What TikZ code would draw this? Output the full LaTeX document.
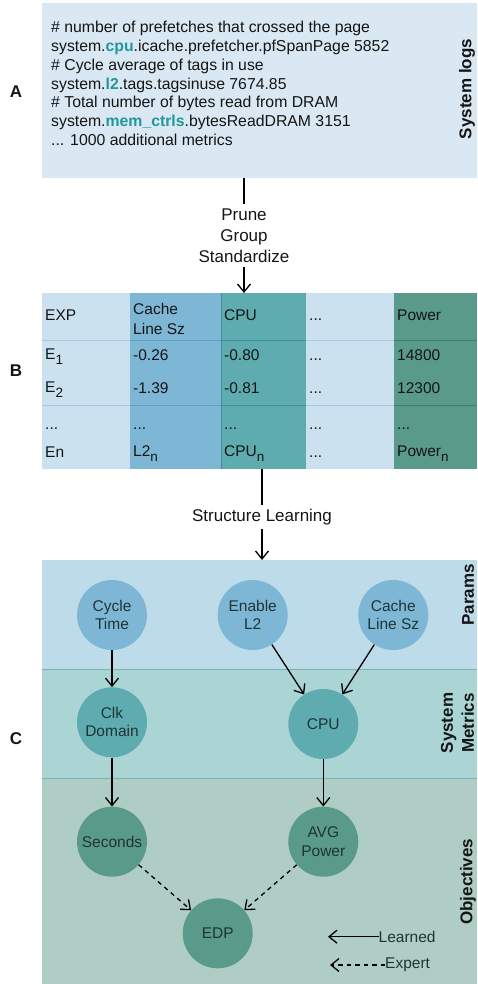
\documentclass[tikz,border=0pt]{standalone}
\usepackage{fontspec}
\setmainfont{Liberation Sans}
\usetikzlibrary{arrows.meta}
\definecolor{panelA}{HTML}{D9E8F2}
\definecolor{colA}{HTML}{CCE1EF}
\definecolor{colAline}{HTML}{A8CADF}
\definecolor{colB}{HTML}{7EB7D6}
\definecolor{colBline}{HTML}{5E9FC3}
\definecolor{colC}{HTML}{5EACB0}
\definecolor{colCline}{HTML}{3F9297}
\definecolor{colE}{HTML}{5A9A8A}
\definecolor{colEline}{HTML}{3E8070}
\definecolor{bandP}{HTML}{BDDBE8}
\definecolor{bandS}{HTML}{ABD5D5}
\definecolor{bandO}{HTML}{AFCDC5}
\definecolor{bandline}{HTML}{74B4B4}
\definecolor{hl}{HTML}{23979B}
\definecolor{nodetxt}{HTML}{1F3434}
\definecolor{txt}{HTML}{151515}
\newcommand\subx[1]{\raisebox{-0.32em}{\fontsize{13.5}{13.5}\selectfont #1}}
\begin{document}
\begin{tikzpicture}[x=1pt,y=-1pt,
  txtfont/.style={font=\fontsize{15.5}{18.7}\selectfont, text=txt},
  logfont/.style={font=\fontsize{15.8}{18.7}\selectfont, text=txt},
  lbl/.style={font=\fontsize{17}{21}\selectfont\bfseries, text=txt},
  steplbl/.style={font=\fontsize{17}{21}\selectfont, text=txt, align=center, inner sep=4pt},
  panel/.style={draw=none, inner sep=0pt, outer sep=0pt},
  logline/.style={logfont, anchor=base west, inner sep=0pt},
  cell/.style={txtfont, anchor=west, inner sep=0pt, text height=11pt, text depth=3pt, align=left},
  mcell/.style={font=\fontsize{15.5}{20}\selectfont, text=txt, anchor=west, inner sep=0pt, align=left},
  bn/.style={circle, minimum size=70pt, inner sep=0pt, align=center,
    font=\fontsize{15.5}{18.3}\selectfont, text=nodetxt},
  arr/.style={-{Straight Barb[length=8pt,width=13pt]}, line width=1.3pt, draw=black},
  darr/.style={arr, dash pattern=on 4.5pt off 4pt},
  bandlbl/.style={lbl, rotate=90, align=center}
]
\useasboundingbox (0,0) rectangle (477,984);

% ---------------- Panel A ----------------
\node[panel, fill=panelA, minimum width=435pt, minimum height=175pt] (A) at (259.5,90.5) {};
\node[logline] (l1) at (51,32.8) {\# number of prefetches that crossed the page};
\node[logline] (l2) at (51,51.6) {system.\textbf{\textcolor{hl}{cpu}}.icache.prefetcher.pfSpanPage 5852};
\node[logline] (l3) at (51,70.4) {\# Cycle average of tags in use};
\node[logline] (l4) at (51,89.2) {system.\textbf{\textcolor{hl}{l2}}.tags.tagsinuse 7674.85};
\node[logline] (l5) at (51,108.0) {\# Total number of bytes read from DRAM};
\node[logline] (l6) at (51,126.8) {system.\textbf{\textcolor{hl}{mem\_ctrls}}.bytesReadDRAM 3151};
\node[logline] (l7) at (51,145.6) {... 1000 additional metrics};
\node[lbl, rotate=90] (syslogs) at (467,89) {System logs};
\node[lbl] (labA) at (16,92) {A};

% ---------------- Step 1 ----------------
\node[steplbl] (prune) at (244,235.5) {Prune\\Group\\Standardize};

% ---------------- Panel B (table) ----------------
\node[panel, minimum width=435pt, minimum height=176pt] (T) at (259.5,381) {};
\fill[colA] (42,293) rectangle (130,469);
\fill[colB] (130,293) rectangle (221,469);
\fill[colC] (221,293) rectangle (306,469);
\fill[colA] (306,293) rectangle (394,469);
\fill[colE] (394,293) rectangle (477,469);
\foreach \yy in {340.7,405.7}{
  \draw[colAline, line width=0.8pt] (42,\yy) -- (130,\yy);
  \draw[colBline, line width=0.8pt] (130,\yy) -- (221,\yy);
  \draw[colCline, line width=0.8pt] (221,\yy) -- (306,\yy);
  \draw[colAline, line width=0.8pt] (306,\yy) -- (394,\yy);
  \draw[colEline, line width=0.8pt] (394,\yy) -- (477,\yy);
}
\draw[colCline, line width=0.8pt] (221,293) -- (221,469);

\node[cell] (h1) at (45,316.7) {EXP};
\node[mcell] (h2) at (133,318.5) {Cache\\Line Sz};
\node[cell] (h3) at (224,316.7) {CPU};
\node[cell] (h4) at (309,316.7) {...};
\node[cell] (h5) at (397,316.7) {Power};

\node[cell] (r11) at (45,355.5) {E\subx{1}};
\node[cell] (r12) at (133,356.7) {-0.26};
\node[cell] (r13) at (224,356.7) {-0.80};
\node[cell] (r14) at (309,356.7) {...};
\node[cell] (r15) at (397,356.7) {14800};

\node[cell] (r21) at (45,388.3) {E\subx{2}};
\node[cell] (r22) at (133,389.3) {-1.39};
\node[cell] (r23) at (224,389.3) {-0.81};
\node[cell] (r24) at (309,389.3) {...};
\node[cell] (r25) at (397,389.3) {12300};

\node[cell] (r31) at (45,425) {...};
\node[cell] (r32) at (133,425) {...};
\node[cell] (r33) at (224,425) {...};
\node[cell] (r34) at (309,425) {...};
\node[cell] (r35) at (397,425) {...};

\node[cell] (r41) at (45,453.3) {En};
\node[cell] (r42) at (133,452.3) {L2\subx{n}};
\node[cell] (r43) at (224,452.3) {CPU\subx{n}};
\node[cell] (r44) at (309,453.3) {...};
\node[cell] (r45) at (397,452.3) {Power\subx{n}};
\node[lbl] (labB) at (16,371) {B};

% ---------------- Step 2 ----------------
\node[steplbl] (sl) at (262,517.3) {Structure Learning};

% ---------------- Panel C ----------------
\node[panel, fill=bandP, minimum width=435pt, minimum height=109.3pt] (P) at (259.5,614.65) {};
\node[panel, fill=bandS, minimum width=435pt, minimum height=109pt] (S) at (259.5,723.8) {};
\node[panel, fill=bandO, minimum width=435pt, minimum height=205.7pt] (O) at (259.5,881.15) {};
\draw[bandline, line width=1pt] (S.north west) -- (S.north east);
\draw[bandline, line width=1pt] (O.north west) -- (O.north east);

\node[bandlbl] (lp) at (468,595) {Params};
\node[bandlbl] (ls) at (457.5,723) {System\\Metrics};
\node[bandlbl] (lo) at (468,881.7) {Objectives};
\node[lbl] (labC) at (16,739) {C};

\node[bn, fill=colB] (ct) at (112,615) {Cycle\\Time};
\node[bn, fill=colB] (el2) at (252.7,615) {Enable\\L2};
\node[bn, fill=colB] (cls) at (393.3,615) {Cache\\Line Sz};
\node[bn, fill=colC] (clk) at (112,722.3) {Clk\\Domain};
\node[bn, fill=colC] (cpu) at (323.3,724) {CPU};
\node[bn, fill=colE] (sec) at (112,841.7) {Seconds};
\node[bn, fill=colE] (avg) at (323.3,841.7) {AVG\\Power};
\node[bn, fill=colE] (edp) at (217.7,933.3) {EDP};

% legend
\node[txtfont, anchor=west, inner sep=0pt, text=nodetxt] (learned) at (378.5,936.7) {Learned};
\node[txtfont, anchor=west, inner sep=0pt, text=nodetxt] (expert) at (385,965) {Expert};
\coordinate (lrnEnd) at (328,936.7);
\coordinate (expEnd) at (330,965);

% ---------------- connectors ----------------
\draw[line width=1.3pt] (A.south -| prune.north) -- (prune.north);
\draw[arr] (prune.south) -- (T.north -| prune.south);
\draw[line width=1.3pt] (T.south -| sl.north) -- (sl.north);
\draw[arr] (sl.south) -- (P.north -| sl.south);

\draw[arr] (ct) -- (clk);
\draw[arr] (el2) -- (cpu);
\draw[arr] (cls) -- (cpu);
\draw[arr] (clk) -- (sec);
\draw[arr] (cpu) -- (avg);
\draw[darr] (sec) -- (edp);
\draw[darr] (avg) -- (edp);

\draw[arr] (learned.west) -- (lrnEnd);
\draw[darr] (expert.west) -- (expEnd);
\end{tikzpicture}
\end{document}
